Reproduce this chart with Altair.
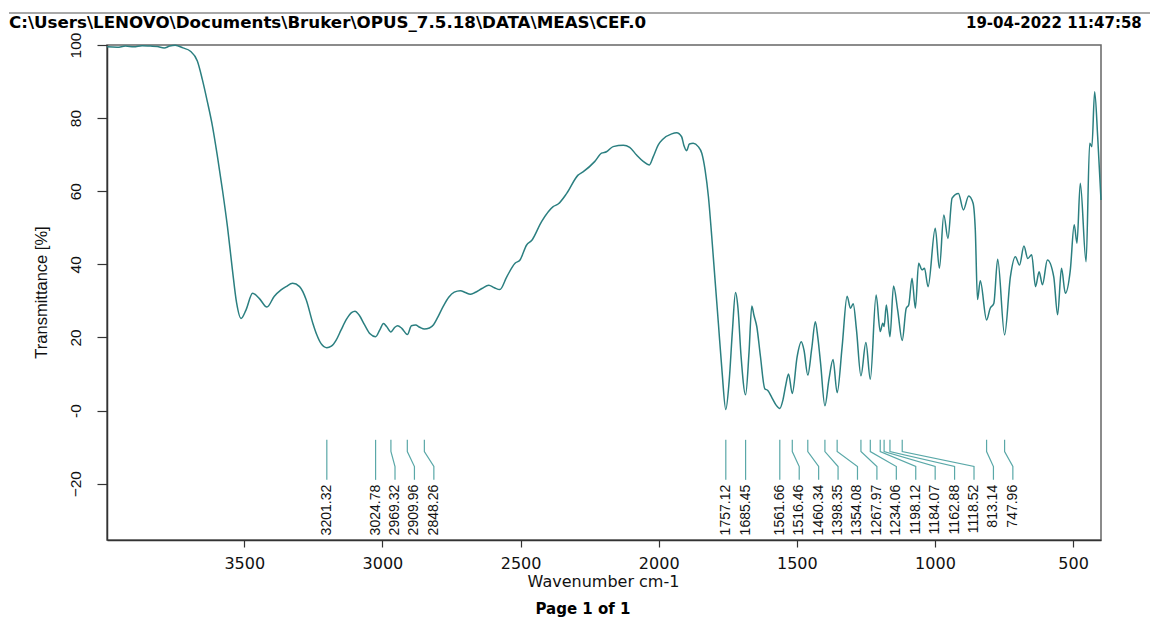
import altair as alt
import pandas as pd

# ---- data ----
wavenumber = [
    3997, 3960, 3930, 3900, 3870, 3840, 3815, 3790, 3770, 3750, 3722, 3695, 3670, 3652, 3634,
    3615, 3597, 3579, 3561, 3543, 3528, 3512, 3494, 3470, 3446, 3418, 3392, 3367, 3349, 3325,
    3300, 3276, 3252, 3238, 3222, 3201.32, 3185, 3168, 3150, 3130, 3112, 3099, 3085, 3065, 3045,
    3024.78, 3010, 2996, 2985, 2969.32, 2955, 2945, 2930, 2909.96, 2895, 2880, 2865, 2848.26,
    2830, 2815, 2800, 2780, 2760, 2740, 2718, 2700, 2682, 2665, 2640, 2615, 2595, 2575, 2550,
    2520, 2502, 2478, 2460, 2424, 2382, 2364, 2333, 2292, 2274, 2232, 2207, 2189, 2165, 2128,
    2105, 2080, 2055, 2034, 2020, 2002, 1984, 1953, 1935, 1917, 1909, 1899, 1889, 1875, 1857,
    1844, 1832, 1820, 1808, 1796, 1784, 1771, 1757.12, 1745, 1733, 1722, 1713, 1702, 1685.45,
    1673, 1663, 1655, 1645, 1632, 1616, 1605, 1590, 1575, 1561.66, 1550, 1540, 1530, 1516.46,
    1499, 1484, 1474, 1460.34, 1446, 1433, 1424, 1414, 1398.35, 1384, 1369, 1354.08, 1336, 1318,
    1306, 1296, 1284, 1267.97, 1250, 1234.06, 1213, 1198.12, 1189, 1184.07, 1176, 1162.88, 1150,
    1135, 1118.52, 1104, 1095, 1083, 1071, 1059, 1047, 1038, 1025, 999, 984, 968, 953, 938, 915,
    897, 878, 862, 854, 846, 836, 813.14, 800, 787, 773, 747.96, 727, 709, 694, 678, 664, 650,
    636, 623, 611, 593, 570, 556, 542, 528, 510, 496, 486, 474, 453, 440, 432, 422, 411, 399,
]
transmittance = [
    99.5, 99.4, 99.7, 99.5, 99.8, 99.7, 99.6, 99.2, 99.7, 99.9, 99.2, 98.3, 95.6, 90.6, 84.6,
    77.7, 69.4, 60.3, 50.3, 38.5, 29.5, 25.2, 27.5, 32.1, 30.7, 28.3, 31.2, 33.0, 33.9, 34.8,
    33.9, 30.3, 23.9, 20.8, 18.3, 17.2, 17.6, 19.2, 22.0, 25.0, 26.8, 27.2, 26.2, 23.5, 21.0,
    20.2, 22.0, 23.8, 23.0, 21.5, 22.8, 23.2, 22.5, 20.8, 23.2, 23.4, 22.8, 22.3,
    22.6, 23.5, 25.5, 28.5, 31.0, 32.4, 32.8, 32.3, 31.8, 32.3, 33.4, 34.3, 33.6, 33.1, 36.6,
    40.3, 41.2, 45.3, 46.5, 51.7, 55.8, 56.5, 59.4, 64.4, 65.3, 68.1, 70.4, 70.8, 72.2, 72.6,
    72.0, 69.9, 68.1, 67.2, 69.4, 72.6, 74.3, 75.7, 76.0, 74.9, 72.6, 71.1, 72.9, 73.1, 72.2,
    70.4, 65.8, 58.5, 47.6, 35.7, 23.9, 11.0, 0.3, 8.0, 22.0, 32.3, 28.0, 15.0, 4.3,
    16.0, 28.6, 26.0, 23.0, 15.0, 6.0, 5.5, 3.5, 1.5, 0.6, 3.0, 7.0, 10.0, 4.7,
    14.7, 18.8, 16.5, 9.7, 17.0, 24.3, 20.0, 12.9, 1.3, 8.4, 14.0, 4.9, 17.5, 31.3,
    28.0, 29.2, 22.0, 9.5, 18.6, 8.6, 31.6, 21.6, 23.9, 23.0, 28.9, 20.2, 34.1,
    27.5, 19.2, 28.0, 28.9, 36.2, 28.0, 40.3, 38.5, 38.9, 33.9, 49.9, 38.9, 53.5, 47.1, 58.1, 59.4,
    54.9, 58.7, 56.7, 49.4, 30.4, 35.5, 24.8, 28.0, 29.3, 41.4, 20.7, 36.6, 42.1, 39.8, 45.0, 41.6, 42.6,
    33.9, 38.0, 34.4, 41.2, 36.6, 26.2, 38.9, 32.1, 38.5, 50.8, 45.8, 62.2, 40.7, 73.1, 72.2, 87.2, 74.9, 57.6,
]
peaks = [
    3201.32, 3024.78, 2969.32, 2909.96, 2848.26, 1757.12, 1685.45, 1561.66, 1516.46, 1460.34,
    1398.35, 1354.08, 1267.97, 1234.06, 1198.12, 1184.07, 1162.88, 1118.52, 813.14, 747.96,
]
y_ticks = [-20, 0, 20, 40, 60, 80, 100]
x_ticks = [3500, 3000, 2500, 2000, 1500, 1000, 500]

header_left = "C:\\Users\\LENOVO\\Documents\\Bruker\\OPUS_7.5.18\\DATA\\MEAS\\CEF.0"
header_right = "19-04-2022  11:47:58"
footer_text = "Page 1 of 1"
x_title = "Wavenumber cm-1"
y_title = "Transmittance [%]"

# ---- layout / style ----
W, H = 994, 495
LABEL_GAP = 70.3                      # min spacing of peak labels (cm-1)
LEVELS = [-8.0, -11.2, -15.3, -18.95]  # leader line breakpoints (y data units)
LABEL_Y = -20.3
SPEC_COLOR = "#2b7f80"
LEAD_COLOR = "#5aa8a8"

xs = alt.Scale(domain=[399, 3997], reverse=True, nice=False, zero=False)
ys = alt.Scale(domain=[-35.4, 100], nice=False, zero=False)

spec = pd.DataFrame({"wn": wavenumber, "t": transmittance})

# label positions (pushed right when too close)
ordered = sorted(peaks, reverse=True)
label_pos = []
for p in ordered:
    label_pos.append(p if not label_pos else min(p, label_pos[-1] - LABEL_GAP))

lead_rows = []
for i, (p, lp) in enumerate(zip(ordered, label_pos)):
    pts = [p, p, lp, lp]
    for k, (xv, yv) in enumerate(zip(pts, LEVELS)):
        lead_rows.append({"pk": i, "k": k, "x": xv, "y": yv})
leads = pd.DataFrame(lead_rows)
labels = pd.DataFrame({"x": label_pos, "txt": [f"{p:.2f}" for p in ordered], "y": LABEL_Y})

x_axis = alt.Axis(values=x_ticks, format="d", tickSize=7, labelPadding=8,
                  labelFont="DejaVu Sans", labelFontSize=16, labelFlush=False,
                  title=x_title, titleFont="DejaVu Sans", titleFontSize=16,
                  titleFontWeight="normal", titleX=496, titleY=41,
                  titleAlign="center", titleBaseline="middle",
                  domainWidth=1.5, tickWidth=1.2)
y_axis = alt.Axis(values=y_ticks, labelExpr="datum.value == 0 ? '-0' : datum.label",
                  labelAngle=270, labelAlign="center", labelBaseline="middle",
                  labelPadding=22, tickSize=10, labelFont="Liberation Sans",
                  labelFontSize=15.5, labelFlush=False, labelOverlap=False,
                  title=y_title, titleFont="Liberation Sans", titleFontSize=16.5,
                  titleFontWeight="normal", titleAngle=270, titleX=-66, titleY=247,
                  titleAlign="center", titleBaseline="middle",
                  domainWidth=1.5, tickWidth=1.2)

X = lambda f: alt.X(f, scale=xs, axis=x_axis)
Y = lambda f: alt.Y(f, scale=ys, axis=y_axis)

line = alt.Chart(spec).mark_line(color=SPEC_COLOR, strokeWidth=1.5, interpolate="monotone").encode(
    x=X("wn:Q"), y=Y("t:Q"), order="wn:Q",
)

lead_lines = alt.Chart(leads).mark_line(color=LEAD_COLOR, strokeWidth=1.2).encode(
    x=X("x:Q"), y=Y("y:Q"), detail="pk:N", order="k:Q",
)

lead_text = alt.Chart(labels).mark_text(
    angle=270, align="right", baseline="middle", font="Liberation Sans",
    fontSize=14, color="#111111"
).encode(x=X("x:Q"), y=Y("y:Q"), text="txt:N")

hdr = pd.DataFrame({"t": [header_left]})
hdr_r = pd.DataFrame({"t": [header_right]})
ftr = pd.DataFrame({"t": [footer_text]})

head_rule = alt.Chart(hdr).mark_rule(color="#a8a8a8", strokeWidth=2).encode(
    x=alt.value(-98), x2=alt.value(1043), y=alt.value(-32)
)
head_left = alt.Chart(hdr).mark_text(
    align="left", baseline="middle", font="DejaVu Sans", fontWeight="bold",
    fontSize=16.7, color="#000000"
).encode(x=alt.value(-98), y=alt.value(-22), text="t:N")
head_right = alt.Chart(hdr_r).mark_text(
    align="left", baseline="middle", font="DejaVu Sans", fontWeight="bold",
    fontSize=15, color="#000000"
).encode(x=alt.value(859), y=alt.value(-22), text="t:N")
foot = alt.Chart(ftr).mark_text(
    align="center", baseline="alphabetic", font="DejaVu Sans", fontWeight="bold",
    fontSize=15, color="#000000"
).encode(x=alt.value(476), y=alt.value(569), text="t:N")

chart = alt.layer(line, lead_lines, lead_text, head_rule, head_left, head_right, foot).properties(
    width=W, height=H,
    autosize=alt.AutoSizeParams(type="none"),
    padding={"left": 99, "top": 37, "right": 49, "bottom": 78},
).configure_view(
    stroke="#666666", strokeWidth=1.5
).configure_axis(
    grid=False, domainColor="#333333", tickColor="#333333",
    labelColor="#111111", titleColor="#111111"
)

chart.save("out.html", embed_options={"renderer": "svg", "actions": False})
